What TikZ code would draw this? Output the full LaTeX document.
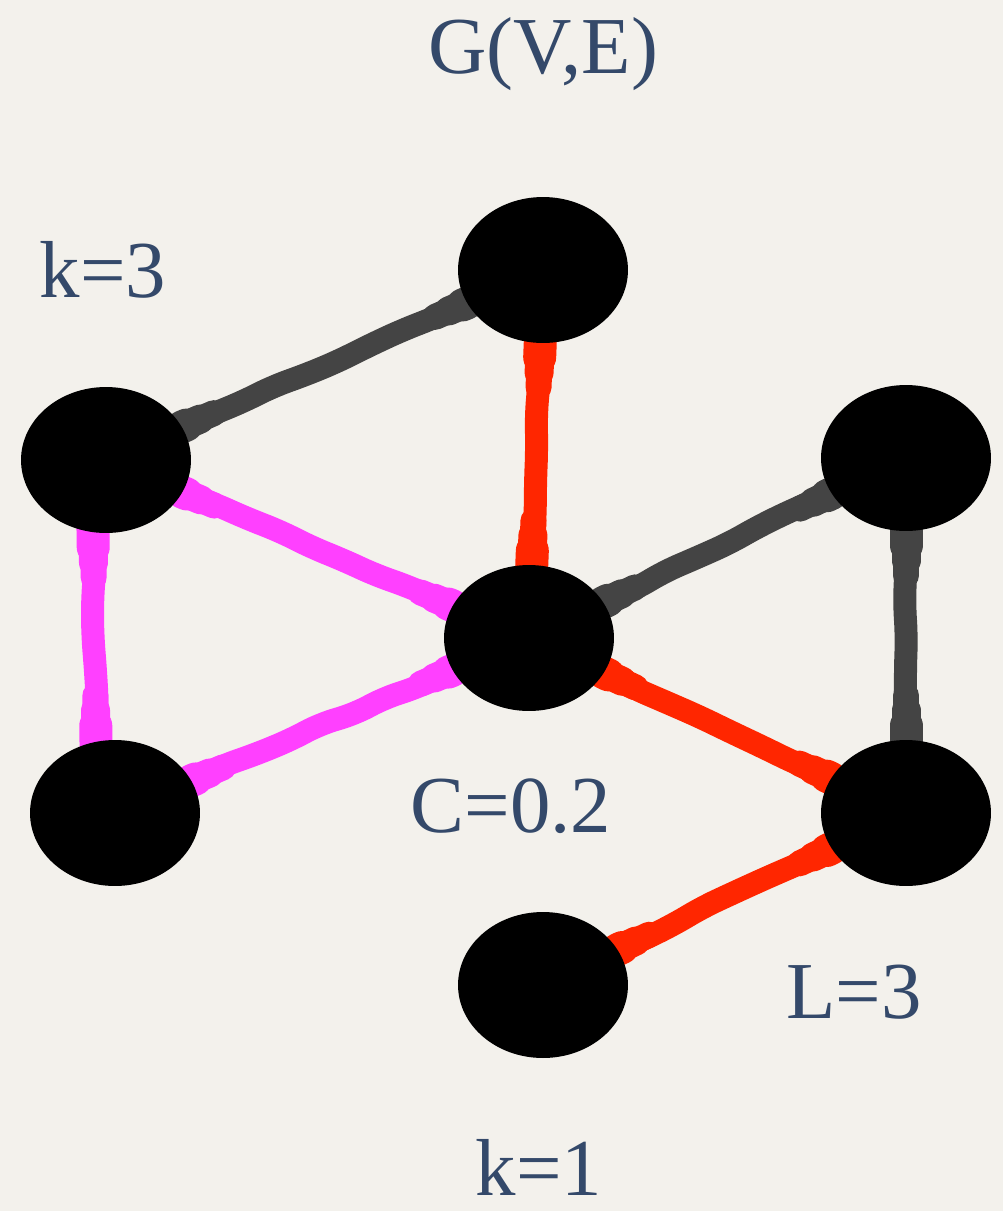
\documentclass[tikz,border=0pt]{standalone}
\usepackage{fontspec}
\setmainfont{Liberation Serif}
\usetikzlibrary{shapes.geometric,decorations.pathmorphing,calc}
\pgfdeclarelayer{paperlayer}
\pgfdeclarelayer{bg}
\pgfsetlayers{paperlayer,bg,main}
\definecolor{paper}{HTML}{F3F1EC}
\definecolor{ink}{HTML}{34496A}
\definecolor{edgegray}{HTML}{444444}
\definecolor{edgered}{HTML}{FF2600}
\definecolor{edgepink}{HTML}{FF40FF}
\tikzset{
  vertex/.style={ellipse, fill=black, minimum width=3.4cm, minimum height=2.92cm, inner sep=0pt},
  label text/.style={text=ink, font=\fontsize{46}{54}\selectfont, anchor=base, inner sep=0pt},
  link/.style={line width=0.46cm, line cap=round, rounded corners=0.3cm,
    decorate, decoration={random steps, segment length=0.7cm, amplitude=0.04cm}},
  flare/.style={line cap=round},
}
\newcommand{\graphedge}[3]{%
  \draw[link,#1] (#2) -- (#3);
  \draw[flare,#1,line width=0.66cm] (#2) -- ($(#2)!1.75cm!(#3)$);
  \draw[flare,#1,line width=0.58cm] (#2) -- ($(#2)!2.05cm!(#3)$);
  \draw[flare,#1,line width=0.52cm] (#2) -- ($(#2)!2.35cm!(#3)$);
  \draw[flare,#1,line width=0.66cm] (#3) -- ($(#3)!1.75cm!(#2)$);
  \draw[flare,#1,line width=0.58cm] (#3) -- ($(#3)!2.05cm!(#2)$);
  \draw[flare,#1,line width=0.52cm] (#3) -- ($(#3)!2.35cm!(#2)$);
}
\begin{document}
\begin{tikzpicture}[x=0.02cm, y=-0.02cm]
\pgfmathsetseed{7}
\begin{pgfonlayer}{paperlayer}
\fill[paper] (0,0) rectangle (1003,1211);
\end{pgfonlayer}
\useasboundingbox (0,0) rectangle (1003,1211);

\node[vertex] (T)  at (543,270) {};
\node[vertex] (L)  at (106,460) {};
\node[vertex] (R)  at (906,458) {};
\node[vertex] (C)  at (529,638) {};
\node[vertex] (BL) at (115,813) {};
\node[vertex] (BR) at (906,813) {};
\node[vertex] (B)  at (543,985) {};
\coordinate (Ls) at ($(L)+(-14,0)$);
\coordinate (BLs) at ($(BL)+(-18,0)$);

\begin{pgfonlayer}{bg}
\graphedge{edgegray}{T}{L}
\graphedge{edgered}{T}{C}
\graphedge{edgepink}{L}{C}
\graphedge{edgepink}{Ls}{BLs}
\graphedge{edgepink}{BL}{C}
\graphedge{edgegray}{C}{R}
\graphedge{edgegray}{R}{BR}
\graphedge{edgered}{C}{BR}
\graphedge{edgered}{BR}{B}
\end{pgfonlayer}

\node[label text] (title) at (543,73) {G(V,E)};
\node[label text] (k3) at (103,297) {k=3};
\node[label text] (c02) at (511,832) {C=0.2};
\node[label text] (l3) at (854,1018) {L=3};
\node[label text] (k1) at (539,1195) {k=1};
\end{tikzpicture}
\end{document}
